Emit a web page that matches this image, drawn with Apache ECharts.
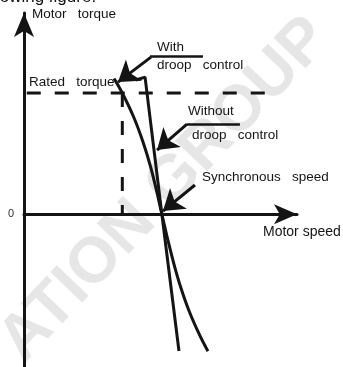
<!DOCTYPE html>
<html>
<head>
<meta charset="utf-8">
<script src="https://cdn.jsdelivr.net/npm/echarts@6/dist/echarts.min.js"></script>
<style>
  html, body { margin: 0; padding: 0; background: #fff; }
  #chart { width: 343px; height: 367px; }
</style>
</head>
<body>
<div id="chart"></div>
<script>
// Torque-speed characteristic (speed: % of synchronous, torque: % of rated)
const withDroopSpeed   = [65.3, 71.3, 79.6, 86.2, 91.6, 96.0, 100, 104.1, 108.5, 113.6, 119.8, 127.5, 133.4];
const withDroopTorque  = [112, 100, 80, 60, 40, 20, 0, -20, -40, -60, -80, -100, -113];
const noDroopSpeed     = [81.2, 87.8, 100, 112.4];
const noDroopTorque    = [110.7, 113.1, 0, -112.8];

// Rated torque guide lines
const ratedTorque = 100;
const ratedSpeed = 71.3;
const ratedLineSpeed = [2, 176];

// Annotation leader arrows: [fromSpeed, fromTorque, toSpeed, toTorque]
const arrowWith     = [92.1, 129.6, 68.2, 109.0];
const arrowWithout  = [118.2, 74.4, 96.5, 52.9];
const arrowSync     = [124.0, 24.1, 100.8, 2.6];
// Underlines beneath the annotation captions: [fromSpeed, toSpeed, torque]
const underlineWith    = [91.4, 129.8, 130.4];
const underlineWithout = [118.2, 156.6, 74.4];

const zip = (xs, ys) => xs.map((x, i) => [x, ys[i]]);
const INK = '#141414';
const FONT = "'Liberation Sans', Arial, sans-serif";

const chart = echarts.init(document.getElementById('chart'), null, { renderer: 'canvas' });

function caption(text, x, y, size) {
  return {
    type: 'text', x: x, y: y, z: 100,
    style: {
      text: text, fill: INK, font: size + 'px ' + FONT,
      textAlign: 'left', textVerticalAlign: 'middle'
    }
  };
}

chart.setOption({
  animation: false,
  backgroundColor: '#fff',
  grid: { left: 24, right: 46, top: 13, bottom: 0, containLabel: false },
  xAxis: {
    type: 'value', min: 0, max: 198,
    axisLine: {
      show: true, onZero: true,
      symbol: ['none', 'arrow'], symbolSize: [15, 23],
      lineStyle: { color: INK, width: 3 }
    },
    axisTick: { show: false },
    axisLabel: { show: false },
    splitLine: { show: false }
  },
  yAxis: {
    type: 'value', min: -126, max: 166,
    axisLine: {
      show: true,
      symbol: ['none', 'arrow'], symbolSize: [15, 24],
      lineStyle: { color: INK, width: 3 }
    },
    axisTick: { show: false },
    axisLabel: {
      customValues: [0], margin: 10,
      color: '#333', fontSize: 11, fontFamily: FONT
    },
    splitLine: { show: false }
  },
  graphic: [
    {
      type: 'text', x: 165, y: 190, rotation: 0.81, z: 0, silent: true,
      style: {
        text: 'ATION GROUP', fill: '#e6e6e6',
        font: 'bold 64px ' + FONT,
        textAlign: 'center', textVerticalAlign: 'middle'
      }
    },
    caption('following figure.', -22, -3, 17),
    caption('Motor   torque', 32, 14, 13.5),
    caption('Rated   torque', 29, 82.5, 13.5),
    caption('With', 157, 47, 13.5),
    caption('droop   control', 157, 65.5, 13.5),
    caption('Without', 188, 111.5, 13.5),
    caption('droop   control', 192, 135.5, 13.5),
    caption('Synchronous   speed', 202, 177, 13.5),
    caption('Motor speed', 263, 232, 14)
  ],
  series: [
    {
      name: 'Rated torque', type: 'line', symbol: 'none', z: 3,
      data: ratedLineSpeed.map(s => [s, ratedTorque]),
      lineStyle: { color: INK, width: 3, type: [14, 14], cap: 'butt' }
    },
    {
      name: 'Rated speed', type: 'line', symbol: 'none', z: 3,
      data: [[ratedSpeed, ratedTorque], [ratedSpeed, 0]],
      lineStyle: { color: INK, width: 3, type: [14, 14], cap: 'butt' }
    },
    {
      name: 'With droop control', type: 'line', symbol: 'none', smooth: 0.4, z: 4,
      data: zip(withDroopSpeed, withDroopTorque),
      lineStyle: { color: INK, width: 3 }
    },
    {
      name: 'Without droop control', type: 'line', symbol: 'none', z: 4,
      data: zip(noDroopSpeed, noDroopTorque),
      lineStyle: { color: INK, width: 3 }
    },
    {
      name: 'Caption underlines', type: 'lines', coordinateSystem: 'cartesian2d', z: 5,
      symbol: ['none', 'none'],
      lineStyle: { color: INK, width: 2.5, opacity: 1 },
      data: [underlineWith, underlineWithout].map(u => ({ coords: [[u[0], u[2]], [u[1], u[2]]] }))
    },
    {
      name: 'Leader arrows', type: 'lines', coordinateSystem: 'cartesian2d', z: 5,
      symbol: ['none', 'arrow'], symbolSize: [11, 20],
      lineStyle: { color: INK, width: 3, opacity: 1 },
      data: [arrowWith, arrowWithout, arrowSync].map(a => ({ coords: [[a[0], a[1]], [a[2], a[3]]] }))
    }
  ]
});
</script>
</body>
</html>
